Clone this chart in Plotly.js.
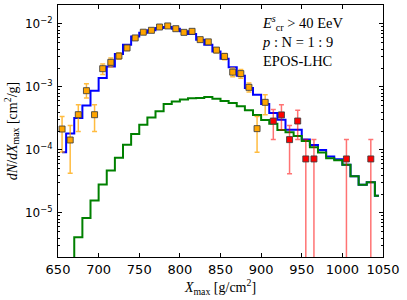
<!DOCTYPE html>
<html>
<head>
<meta charset="utf-8">
<script src="https://cdn.plot.ly/plotly-3.0.1.min.js"></script>
<style>
html,body{margin:0;padding:0;background:#fff;}
#chart{width:407px;height:300px;}
</style>
</head>
<body>
<div id="chart"></div>
<script>
// Histogram bin centres (g/cm^2)
const binCentres = [655,665,675,685,695,705,715,725,735,745,755,765,775,785,795,805,815,825,835,845,
                    855,865,875,885,895,905,915,925,935,945,955,965,975,985,995,1005,1015,1025,1035,1045];
// Total model histogram (blue)
const totalModel = [9.2e-5,1.82e-4,3.22e-4,5.1e-4,8.7e-4,1.39e-3,2.12e-3,3.34e-3,4.69e-3,6.35e-3,
                    7.24e-3,7.93e-3,8.63e-3,8.95e-3,8.41e-3,7.64e-3,6.93e-3,5.64e-3,4.69e-3,3.67e-3,
                    2.81e-3,2.05e-3,1.51e-3,9.6e-4,7.55e-4,5.37e-4,3.86e-4,3.03e-4,2.1e-4,2.1e-4,
                    1.46e-4,1.2e-4,1.0e-4,7.9e-5,7.1e-5,5.85e-5,3.81e-5,2.81e-5,3.06e-5,1.88e-5];
// Nitrogen component histogram (green)
const greenX = [665,675,685,695,705,715,725,735,745,755,765,775,785,795,805,815,825,835,845,
                855,865,875,885,895,905,915,925,935,945,955,965,975,985,995,1005,1015,1025,1035,1045];
const nitrogenModel = [1.4e-6,4.1e-6,8.3e-6,1.58e-5,2.82e-5,4.74e-5,7.55e-5,1.21e-4,1.79e-4,
                       2.51e-4,3.29e-4,4.1e-4,5.37e-4,5.89e-4,6.31e-4,6.64e-4,6.68e-4,6.92e-4,6.52e-4,
                       5.96e-4,5.57e-4,4.92e-4,4.27e-4,3.59e-4,2.99e-4,2.6e-4,2.07e-4,1.91e-4,1.66e-4,
                       1.39e-4,1.1e-4,9.1e-5,7.4e-5,6.84e-5,5.85e-5,3.81e-5,2.81e-5,3.06e-5,1.88e-5];
// Data points (orange)
const dataX  = [655,665,675,685,695,705,715,725,735,745,755,765,775,785,795,805,815,825,835,845,855,865,875,885,895,905];
const dataY  = [2.15e-4,1.44e-4,3.63e-4,8.73e-4,3.63e-4,1.95e-3,2.46e-3,3.1e-3,4.16e-3,6.0e-3,
                7.4e-3,7.93e-3,8.95e-3,9.3e-3,8.41e-3,7.36e-3,7.64e-3,5.64e-3,5.2e-3,3.85e-3,3.05e-3,1.72e-3,1.63e-3,9.86e-4,2.18e-4,5.7e-4];
const dataHi = [3.41e-4,2.45e-4,5.24e-4,1.12e-3,5.24e-4,2.32e-3,2.88e-3,3.5e-3,4.55e-3,6.45e-3,
                7.85e-3,8.4e-3,9.4e-3,9.8e-3,8.9e-3,7.85e-3,8.15e-3,6.05e-3,5.6e-3,4.2e-3,3.4e-3,2.0e-3,1.9e-3,1.16e-3,3.41e-4,7.55e-4];
const dataLo = [9.3e-5,4.27e-5,1.97e-4,6.68e-4,1.97e-4,1.57e-3,2.07e-3,2.75e-3,3.8e-3,5.55e-3,
                6.95e-3,7.45e-3,8.5e-3,8.8e-3,7.9e-3,6.9e-3,7.15e-3,5.25e-3,4.8e-3,3.5e-3,2.7e-3,1.45e-3,1.38e-3,8.3e-4,9.2e-5,3.63e-4];
// Data points (red, tail)
const tailX  = [915,925,935,945,955,965,1005,1035];
const tailY  = [2.88e-4,3.6e-4,1.46e-4,2.88e-4,7.2e-5,7.2e-5,7.2e-5,7.2e-5];
const tailHi = [4.37e-4,5.24e-4,2.45e-4,4.26e-4,1.46e-4,1.46e-4,1.46e-4,1.46e-4];
const tailLo = [1.46e-4,2.1e-4,4.2e-5,1.46e-4,0,0,0,0];

// y-axis tick decades (labelled) and minor multipliers
const labelDecades = [-5,-4,-3,-2];
const minorDecades = [-6,-5,-4,-3,-2];
const minorMult = [2,3,4,5,6,7,8,9];
const majorVals = labelDecades.map(d => Math.pow(10,d));
const majorText = labelDecades.map(d => '10<sup>\u2212' + Math.abs(d) + '</sup>');
const minorVals = [];
minorDecades.forEach(d => minorMult.forEach(m => minorVals.push(m*Math.pow(10,d))));

const sub = (a,b)=>a.map((v,i)=>v-b[i]);

const serif = '"Liberation Serif","DejaVu Serif",serif';
const sans = '"DejaVu Sans",sans-serif';

const traces = [
  {x: binCentres, y: totalModel, mode:'lines', line:{shape:'hvh', color:'#0000ff', width:2}, hoverinfo:'skip'},
  {x: greenX, y: nitrogenModel, mode:'lines', line:{shape:'hvh', color:'#008000', width:2}, hoverinfo:'skip'},
  {x: dataX, y: dataY, mode:'markers',
   marker:{symbol:'square', size:6, color:'#ffa500', line:{color:'rgba(60,60,60,0.85)', width:1}},
   error_y:{type:'data', symmetric:false, array: sub(dataHi,dataY), arrayminus: sub(dataY,dataLo),
            color:'rgba(255,165,0,0.75)', thickness:1.5, width:2.5}},
  {x: tailX, y: tailY, mode:'markers',
   marker:{symbol:'square', size:6, color:'#ff0000', line:{color:'rgba(60,60,60,0.85)', width:1}},
   error_y:{type:'data', symmetric:false, array: sub(tailHi,tailY), arrayminus: sub(tailY,tailLo),
            color:'rgba(255,0,0,0.55)', thickness:1.5, width:2.5}}
];

const layout = {
  width:407, height:300,
  margin:{l:58, r:24, t:5, b:43},
  paper_bgcolor:'#fff', plot_bgcolor:'#fff',
  showlegend:false,
  xaxis:{
    range:[650,1050], tick0:650, dtick:50,
    ticks:'inside', ticklen:4, tickwidth:1, tickcolor:'#000',
    showline:true, linecolor:'#000', linewidth:1, mirror:'ticks',
    showgrid:false, zeroline:false,
    tickfont:{family:sans, size:13, color:'#000'},
    title:{text:'<i>X</i><sub>max</sub> [g/cm<sup>2</sup>]', font:{family:serif, size:14, color:'#000'}, standoff:6}
  },
  yaxis:{
    type:'log', range:[Math.log10(2e-6), Math.log10(2e-2)],
    tickmode:'array', tickvals:majorVals, ticktext:majorText,
    ticks:'inside', ticklen:4, tickwidth:1, tickcolor:'#000',
    minor:{ticks:'inside', ticklen:2, tickmode:'array', tickvals:minorVals, tickcolor:'#000', showgrid:false},
    showline:true, linecolor:'#000', linewidth:1, mirror:'ticks',
    showgrid:false, zeroline:false,
    ticklabelstandoff:2,
    tickfont:{family:sans, size:12, color:'#000'},
    title:{text:'<i>dN</i>/<i>dX</i><sub>max</sub> [cm<sup>2</sup>/g]', font:{family:serif, size:14, color:'#000'}, standoff:4}
  },
  annotations:[
    {xref:'paper', yref:'paper', x:0.62, y:0.975, xanchor:'left', yanchor:'top', showarrow:false, align:'left',
     text:'<i>E</i><sup><i>s</i></sup><sub>cr</sub> > 40 EeV<br><i>p</i> : N = 1 : 9<br>EPOS-LHC',
     font:{family:serif, size:14.5, color:'#000'}}
  ]
};

Plotly.newPlot('chart', traces, layout, {staticPlot:true, displayModeBar:false});
</script>
</body>
</html>
